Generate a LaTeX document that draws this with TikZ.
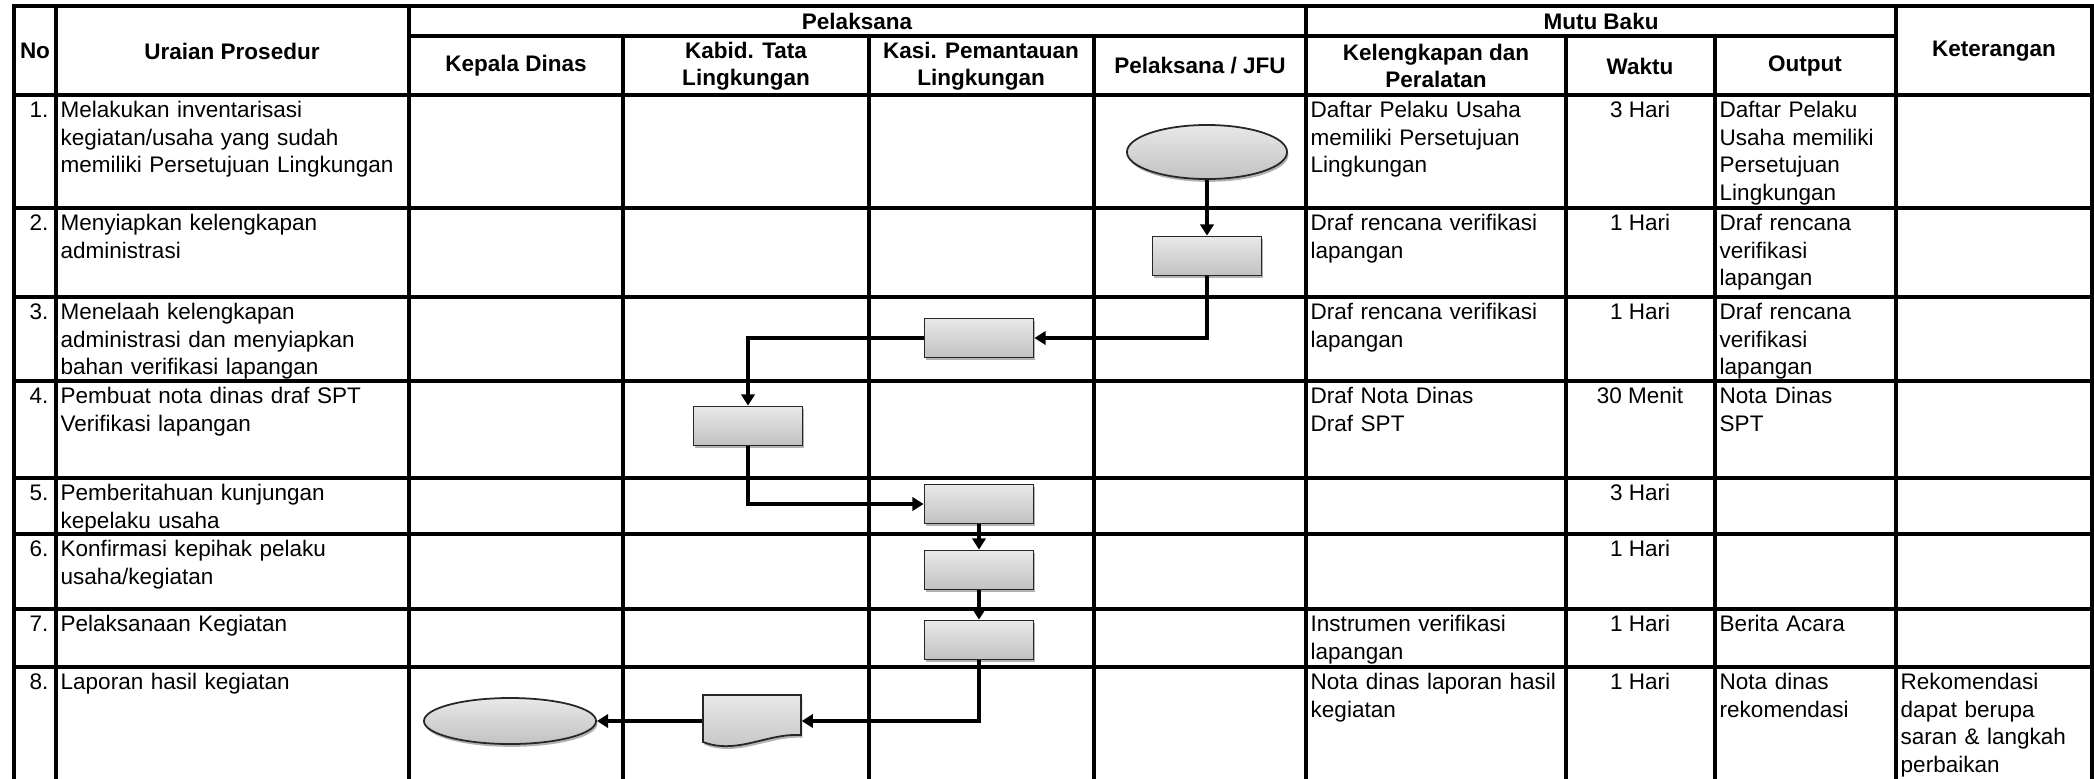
\documentclass[tikz,border=0pt]{standalone}
\usepackage{fontspec}
\setmainfont{Liberation Sans}
\usetikzlibrary{positioning,arrows.meta,calc,shapes.geometric,shadows}

\begin{document}
\begin{tikzpicture}[
  x=0.01cm, y=-0.01cm,
  >={Triangle[length=3.2pt, width=3.8pt]},
  garis/.style={line width=0.9pt, line cap=rect},
  alur/.style={->, line width=1.15pt},
  kepala/.style={font=\fontsize{6.4pt}{7.8pt}\selectfont\bfseries, align=center, inner sep=0pt},
  teks/.style={font=\fontsize{6.4pt}{7.8pt}\selectfont, inner xsep=0.04cm, inner ysep=0.03cm,
               execute at begin node=\strut},
  isi/.style={teks, align=left, anchor=north west},
  uraian/.style={isi, text width=3.4cm},
  lengkap/.style={isi, text width=2.5cm},
  keluaran/.style={isi, text width=1.75cm},
  catatan/.style={isi, text width=1.85cm},
  nomor/.style={teks, anchor=north east, inner xsep=0.07cm},
  waktu/.style={teks, anchor=north},
  bentuk/.style={draw=black!85, line width=0.5pt, top color=gray!18, bottom color=gray!48,
                 drop shadow={shadow xshift=0.4pt, shadow yshift=-0.8pt, opacity=0.3, fill=black}},
  proses/.style={bentuk, rectangle, minimum width=1.09cm, minimum height=0.39cm, inner sep=0pt},
  ujung/.style={bentuk, ellipse, inner sep=0pt}]
  \useasboundingbox (0,0) rectangle (2094,778);
  \draw[garis] (14,6) -- (2092,6);
  \draw[garis] (409,36) -- (1896,36);
  \draw[garis] (14,95) -- (2092,95);
  \draw[garis] (14,208) -- (2092,208);
  \draw[garis] (14,297) -- (2092,297);
  \draw[garis] (14,381) -- (2092,381);
  \draw[garis] (14,478) -- (2092,478);
  \draw[garis] (14,534) -- (2092,534);
  \draw[garis] (14,609) -- (2092,609);
  \draw[garis] (14,667) -- (2092,667);
  \draw[garis] (14,6) -- (14,778);
  \draw[garis] (56,6) -- (56,778);
  \draw[garis] (409,6) -- (409,778);
  \draw[garis] (623,36) -- (623,778);
  \draw[garis] (869,36) -- (869,778);
  \draw[garis] (1094,36) -- (1094,778);
  \draw[garis] (1306,6) -- (1306,778);
  \draw[garis] (1566,36) -- (1566,778);
  \draw[garis] (1715,36) -- (1715,778);
  \draw[garis] (1896,6) -- (1896,778);
  \draw[garis] (2092,6) -- (2092,778);

  \node[kepala] (hNo) at (35,51) {No};
  \node[kepala] (hUraian) at (232,51) {Uraian Prosedur};
  \node[kepala] (hPelaksana) at (857,21) {Pelaksana};
  \node[kepala] (hKadis) at (516,66) {Kepala Dinas};
  \node[kepala] (hKabid) at (746,66) {Kabid. Tata\\Lingkungan};
  \node[kepala] (hKasi) at (981,66) {Kasi. Pemantauan\\Lingkungan};
  \node[kepala] (hJfu) at (1200,66) {Pelaksana / JFU};
  \node[kepala] (hMutu) at (1601,21) {Mutu Baku};
  \node[kepala] (hKel) at (1436,66) {Kelengkapan dan\\Peralatan};
  \node[kepala] (hWaktu) at (1640,66) {Waktu};
  \node[kepala] (hOutput) at (1805,66) {Output};
  \node[kepala] (hKet) at (1994,51) {Keterangan};

  \node[nomor] (no1) at (56,95) {1.};
  \node[uraian] (ur1) at (56,95) {Melakukan inventarisasi\\kegiatan/usaha yang sudah\\memiliki Persetujuan Lingkungan};
  \node[lengkap] (kl1) at (1306,95) {Daftar Pelaku Usaha\\memiliki Persetujuan\\Lingkungan};
  \node[waktu] (wk1) at (1640,95) {3 Hari};
  \node[keluaran] (op1) at (1715,95) {Daftar Pelaku\\Usaha memiliki\\Persetujuan\\Lingkungan};

  \node[nomor] (no2) at (56,208) {2.};
  \node[uraian] (ur2) at (56,208) {Menyiapkan kelengkapan\\administrasi};
  \node[lengkap] (kl2) at (1306,208) {Draf rencana verifikasi\\lapangan};
  \node[waktu] (wk2) at (1640,208) {1 Hari};
  \node[keluaran] (op2) at (1715,208) {Draf rencana\\verifikasi\\lapangan};

  \node[nomor] (no3) at (56,297) {3.};
  \node[uraian] (ur3) at (56,297) {Menelaah kelengkapan\\administrasi dan menyiapkan\\bahan verifikasi lapangan};
  \node[lengkap] (kl3) at (1306,297) {Draf rencana verifikasi\\lapangan};
  \node[waktu] (wk3) at (1640,297) {1 Hari};
  \node[keluaran] (op3) at (1715,297) {Draf rencana\\verifikasi\\lapangan};

  \node[nomor] (no4) at (56,381) {4.};
  \node[uraian] (ur4) at (56,381) {Pembuat nota dinas draf SPT\\Verifikasi lapangan};
  \node[lengkap] (kl4) at (1306,381) {Draf Nota Dinas\\Draf SPT};
  \node[waktu] (wk4) at (1640,381) {30 Menit};
  \node[keluaran] (op4) at (1715,381) {Nota Dinas\\SPT};

  \node[nomor] (no5) at (56,478) {5.};
  \node[uraian] (ur5) at (56,478) {Pemberitahuan kunjungan\\kepelaku usaha};
  \node[waktu] (wk5) at (1640,478) {3 Hari};

  \node[nomor] (no6) at (56,534) {6.};
  \node[uraian] (ur6) at (56,534) {Konfirmasi kepihak pelaku\\usaha/kegiatan};
  \node[waktu] (wk6) at (1640,534) {1 Hari};

  \node[nomor] (no7) at (56,609) {7.};
  \node[uraian] (ur7) at (56,609) {Pelaksanaan Kegiatan};
  \node[lengkap] (kl7) at (1306,609) {Instrumen verifikasi\\lapangan};
  \node[waktu] (wk7) at (1640,609) {1 Hari};
  \node[keluaran] (op7) at (1715,609) {Berita Acara};

  \node[nomor] (no8) at (56,667) {8.};
  \node[uraian] (ur8) at (56,667) {Laporan hasil kegiatan};
  \node[lengkap] (kl8) at (1306,667) {Nota dinas laporan hasil\\kegiatan};
  \node[waktu] (wk8) at (1640,667) {1 Hari};
  \node[keluaran] (op8) at (1715,667) {Nota dinas\\rekomendasi};
  \node[catatan] (kt8) at (1896,667) {Rekomendasi\\dapat berupa\\saran \& langkah\\perbaikan};

  \node[ujung, minimum width=1.6cm, minimum height=0.54cm] (mulai) at (1207,152) {};
  \node[proses] (p2) at (1207,256) {};
  \node[proses] (p3) at (979,338) {};
  \node[proses] (p4) at (748,426) {};
  \node[proses] (p5) at (979,504) {};
  \node[proses] (p6) at (979,570) {};
  \node[proses] (p7) at (979,640) {};
  \node[minimum width=0.98cm, minimum height=0.52cm, inner sep=0pt] (dok) at (752,721) {};
  \shade[bentuk, shift={(dok.center)}] (-49,-26) -- (49,-26) -- (49,14)
    .. controls (15,12) and (-15,34) .. (-49,21) -- cycle;
  \node[ujung, minimum width=1.72cm, minimum height=0.46cm] (selesai) at (510,721) {};

  \draw[alur] (mulai) -- (p2);
  \draw[alur] (p2) |- (p3);
  \draw[alur] (p3) -| (p4);
  \draw[alur] (p4) |- (p5);
  \draw[alur] (p5) -- (p6);
  \draw[alur] (p6) -- (p7);
  \draw[alur] (p7) |- (dok);
  \draw[alur] (dok) -- (selesai);
\end{tikzpicture}
\end{document}
